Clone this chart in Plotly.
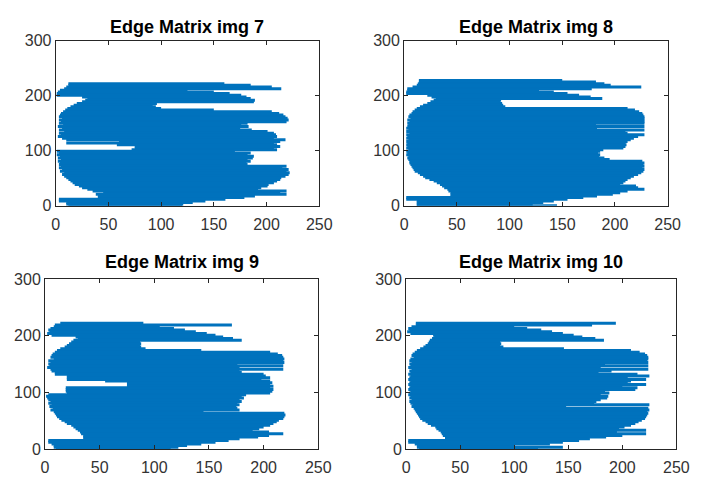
import plotly.graph_objects as go

# ---------------- data: each row of the edge matrix (row y, start x, end x) ----------------
rows_a = [222, 219, 216, 213, 210, 207, 204, 201, 198, 195,
          192, 189, 186, 183, 180, 177, 174, 171, 168, 165,
          162, 159, 156, 153, 150, 147, 144, 141, 138, 135,
          132, 129, 126, 123, 120, 117, 114, 111, 108, 105,
          102, 99, 96, 93, 90, 87, 84, 81, 78, 75,
          72, 69, 66, 63, 60, 57, 54, 51, 48, 45,
          42, 39, 36, 33, 30, 27, 24, 21, 18, 15,
          12, 9, 6, 3, 0]

rows_b = [228, 225] + rows_a

img7_start = [12, 12, 10, 8, 4, 2, 1, 1, 25, 30,
              28, 25, 20, 17, 14, 11, 9, 7, 5, 4,
              3, 6, 3, 5, 3, 7, 2, 6, 3, 8,
              3, 5, 2, 6, 10, 60, 10, 58, 75, 75,
              72, 1, 3, 1, 4, 2, 5, 2, 4, 3,
              5, 3, 6, 4, 8, 6, 8, 10, 12, 14,
              16, 18, 22, 25, 30, 35, 45, 38, 40, 40,
              3, 3, 10, 10, 12]
img7_end = [160, 185, 205, 214, 125, 150, 165, 176, 181, 185,
            189, 188, 96, 92, 95, 100, 150, 205, 212, 216,
            218, 220, 221, 219, 182, 176, 183, 175, 186, 201,
            207, 209, 210, 207, 218, 213, 207, 210, 213, 207,
            210, 170, 185, 182, 188, 187, 182, 185, 181, 182,
            219, 215, 221, 219, 222, 221, 218, 214, 213, 210,
            207, 202, 201, 195, 192, 219, 213, 219, 189, 179,
            161, 142, 130, 121, 120]

img8_start = [14, 14, 13, 12, 8, 3, 3, 2, 2, 22,
              26, 30, 28, 25, 22, 18, 15, 12, 10, 8,
              7, 5, 4, 6, 3, 5, 3, 4, 3, 2,
              4, 2, 5, 2, 3, 2, 4, 2, 3, 2,
              3, 2, 4, 2, 3, 2, 4, 3, 4, 5,
              5, 6, 7, 8, 9, 10, 13, 15, 18, 20,
              24, 28, 31, 34, 36, 38, 41, 42, 44, 44,
              44, 2, 2, 12, 12, 12, 12]
img8_end = [150, 182, 190, 196, 225, 178, 128, 142, 155, 166,
            177, 188, 92, 91, 93, 94, 96, 212, 219, 223,
            226, 227, 228, 228, 228, 228, 228, 182, 228, 183,
            228, 210, 212, 228, 222, 218, 215, 212, 210, 211,
            210, 208, 189, 186, 184, 186, 185, 190, 195, 226,
            228, 227, 228, 226, 228, 227, 225, 222, 218, 215,
            212, 210, 208, 205, 220, 222, 228, 212, 205, 198,
            183, 170, 155, 142, 132, 122, 145]

img9_start = [14, 9, 8, 5, 3, 4, 2, 6, 28, 30,
              26, 24, 22, 20, 18, 14, 11, 9, 7, 6,
              5, 8, 3, 5, 3, 4, 2, 5, 6, 9,
              9, 20, 20, 20, 55, 75, 75, 75, 19, 19,
              19, 20, 3, 1, 2, 3, 5, 3, 6, 4,
              7, 5, 8, 9, 10, 11, 13, 15, 18, 20,
              24, 26, 28, 30, 32, 33, 35, 35, 35, 3,
              3, 6, 8, 8, 10]
img9_end = [90, 171, 105, 118, 128, 138, 148, 156, 163, 172,
            180, 87, 88, 87, 88, 92, 143, 206, 213, 217,
            218, 219, 218, 219, 176, 218, 178, 218, 178, 180,
            200, 202, 206, 198, 206, 208, 206, 209, 206, 209,
            208, 206, 184, 180, 182, 178, 180, 176, 178, 175,
            176, 178, 145, 219, 220, 219, 218, 214, 212, 209,
            206, 200, 196, 190, 205, 218, 205, 195, 178, 168,
            156, 143, 130, 122, 115]

img10_start = [9, 9, 5, 2, 3, 1, 4, 25, 26, 24,
               22, 21, 20, 18, 16, 13, 10, 8, 6, 5,
               7, 4, 3, 5, 3, 4, 2, 5, 3, 4,
               2, 4, 3, 2, 4, 3, 2, 4, 3, 2,
               4, 3, 2, 4, 3, 5, 3, 4, 6, 5,
               7, 8, 9, 10, 11, 12, 13, 15, 18, 20,
               23, 27, 28, 30, 32, 33, 34, 36, 36, 2,
               2, 8, 10, 10, 12]
img10_end = [194, 172, 100, 112, 125, 135, 145, 155, 163, 175,
             183, 87, 88, 87, 90, 146, 208, 216, 221, 223,
             224, 224, 223, 224, 184, 224, 180, 224, 190, 178,
             214, 225, 205, 222, 208, 205, 222, 200, 214, 212,
             184, 188, 180, 187, 186, 180, 176, 174, 225, 148,
             224, 225, 223, 224, 223, 222, 221, 218, 215, 212,
             208, 202, 197, 222, 195, 222, 200, 185, 170, 160,
             145, 133, 100, 145, 122]

titles = ["Edge Matrix img 7", "Edge Matrix img 8",
          "Edge Matrix img 9", "Edge Matrix img 10"]
x_ticks = [0, 50, 100, 150, 200, 250]
y_ticks = [0, 100, 200, 300]

panels = [
    (rows_a, img7_start, img7_end),
    (rows_b, img8_start, img8_end),
    (rows_a, img9_start, img9_end),
    (rows_a, img10_start, img10_end),
]

# ---------------- layout geometry (pixels of a 706 x 486 canvas) ----------------
W, H = 706, 486
boxes = [  # left, right, top, bottom (px)
    (53, 323, 34, 205),
    (410, 680, 34, 205),
    (42, 322, 281, 457),
    (412, 689, 281, 457),
]
title_y_px = [20, 20, 263, 263]

BLUE = "#0072BD"
AX = "#262626"
FONT = "Liberation Sans, Arial, sans-serif"

fig = go.Figure()
for i, (rows, xs, xe) in enumerate(panels):
    sfx = "" if i == 0 else str(i + 1)
    lx, ly = [], []
    for r, s, e in zip(rows, xs, xe):
        lx += [s, e, None]
        ly += [r, r, None]
    fig.add_trace(go.Scatter(
        x=lx, y=ly, mode="lines",
        line=dict(color=BLUE, width=3.0),
        connectgaps=False,
        xaxis="x" + sfx, yaxis="y" + sfx,
        showlegend=False, hoverinfo="skip",
    ))

layout = dict(
    width=W, height=H,
    margin=dict(l=0, r=0, t=0, b=0),
    paper_bgcolor="white", plot_bgcolor="white",
    showlegend=False,
    font=dict(family=FONT, color=AX),
)
annotations = []
for i, (l, r, t, b) in enumerate(boxes):
    sfx = "" if i == 0 else str(i + 1)
    axcommon = dict(
        showgrid=False, zeroline=False,
        showline=True, linecolor=AX, linewidth=1, mirror="ticks",
        ticks="inside", ticklen=4, tickcolor=AX, tickwidth=1,
        tickfont=dict(size=16, color="#333333", family=FONT),
        fixedrange=True,
    )
    layout["xaxis" + sfx] = dict(
        axcommon, domain=[l / W, r / W], range=[0, 250],
        tickvals=x_ticks, ticktext=[str(v) for v in x_ticks],
        anchor="y" + sfx, ticklabelstandoff=4,
    )
    layout["yaxis" + sfx] = dict(
        axcommon, domain=[1 - b / H, 1 - t / H], range=[0, 300],
        tickvals=y_ticks, ticktext=[str(v) for v in y_ticks],
        anchor="x" + sfx,
    )
    annotations.append(dict(
        text="<b>" + titles[i] + "</b>",
        x=(l + r) / 2 / W, y=1 - title_y_px[i] / H,
        xref="paper", yref="paper", xanchor="center", yanchor="middle",
        showarrow=False,
        font=dict(size=18, color="black", family=FONT),
    ))
layout["annotations"] = annotations
fig.update_layout(**layout)

fig.write_html("out.html")
